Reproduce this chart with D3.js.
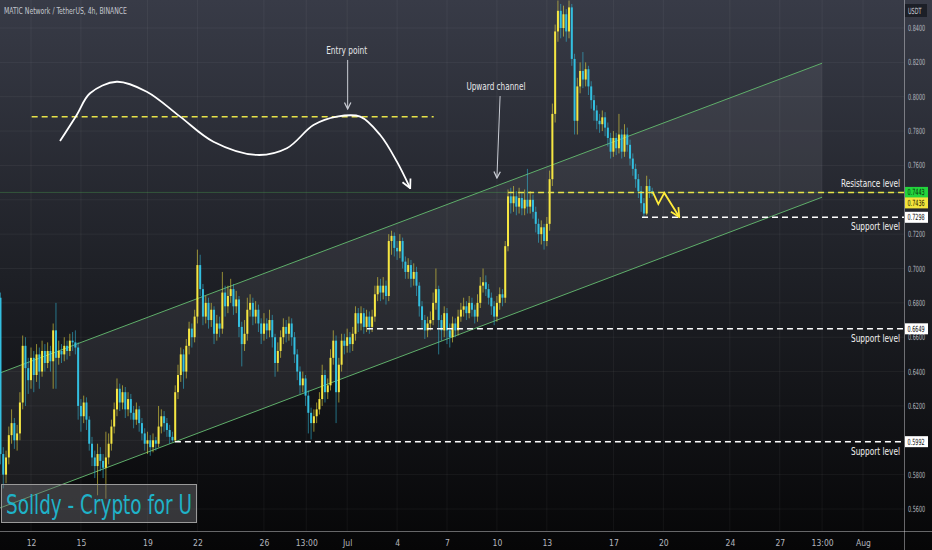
<!DOCTYPE html>
<html>
<head>
<meta charset="utf-8">
<script src="https://cdn.jsdelivr.net/npm/d3@7"></script>
<style>
  body { margin: 0; background: #000; }
  svg { display: block; }
</style>
</head>
<body>
<div id="chart"></div>
<script>
// MATIC/USDT 4h candles, first one opens Jun 10 2023 04:00, one every 4 hours
var firstOpen = 0.683
var closes = [
  0.592,0.580,0.590,0.603,0.610,0.600,0.604,0.622,0.655,0.642,
  0.635,0.648,0.638,0.650,0.640,0.652,0.645,0.652,0.646,0.664,
  0.648,0.652,0.650,0.655,0.652,0.658,0.657,0.654,0.620,0.614,
  0.622,0.612,0.598,0.590,0.585,0.592,0.588,0.584,0.590,0.598,
  0.608,0.618,0.630,0.622,0.628,0.618,0.624,0.616,0.612,0.618,
  0.610,0.604,0.598,0.600,0.596,0.600,0.598,0.608,0.614,0.610,
  0.606,0.602,0.600,0.628,0.638,0.650,0.640,0.655,0.665,0.660,
  0.672,0.702,0.688,0.672,0.680,0.670,0.676,0.662,0.668,0.665,
  0.686,0.678,0.684,0.688,0.678,0.682,0.666,0.656,0.662,0.676,
  0.680,0.672,0.676,0.668,0.662,0.668,0.664,0.670,0.660,0.645,
  0.652,0.660,0.666,0.662,0.668,0.660,0.650,0.640,0.632,0.636,
  0.626,0.616,0.610,0.614,0.618,0.624,0.638,0.628,0.632,0.648,
  0.658,0.628,0.644,0.658,0.655,0.660,0.656,0.662,0.674,0.668,
  0.674,0.666,0.672,0.666,0.672,0.685,0.690,0.686,0.690,0.684,
  0.716,0.719,0.712,0.710,0.716,0.704,0.698,0.702,0.694,0.698,
  0.690,0.678,0.670,0.664,0.668,0.670,0.680,0.688,0.670,0.664,
  0.674,0.664,0.660,0.668,0.664,0.672,0.676,0.678,0.674,0.680,
  0.676,0.672,0.680,0.690,0.692,0.688,0.683,0.678,0.672,0.680,
  0.685,0.683,0.713,0.742,0.738,0.742,0.736,0.741,0.735,0.740,
  0.736,0.740,0.733,0.726,0.720,0.724,0.716,0.726,0.752,0.790,
  0.838,0.850,0.840,0.848,0.838,0.852,0.822,0.786,0.806,0.815,
  0.810,0.816,0.806,0.798,0.792,0.786,0.784,0.788,0.782,0.776,
  0.768,0.776,0.770,0.778,0.768,0.778,0.772,0.764,0.758,0.752,
  0.745,0.738,0.732,0.748,0.745,0.7436
]
var highs = [
  0.686,0.596,0.594,0.608,0.618,0.613,0.609,0.628,0.661,0.660,
  0.648,0.654,0.652,0.656,0.654,0.658,0.656,0.657,0.655,0.668,
  0.680,0.658,0.656,0.660,0.658,0.662,0.663,0.664,0.657,0.624,
  0.626,0.625,0.614,0.602,0.594,0.598,0.596,0.592,0.605,0.604,
  0.612,0.622,0.636,0.633,0.632,0.631,0.628,0.627,0.620,0.622,
  0.620,0.613,0.607,0.605,0.603,0.604,0.602,0.620,0.618,0.617,
  0.613,0.609,0.605,0.632,0.644,0.654,0.653,0.659,0.669,0.668,
  0.676,0.711,0.708,0.691,0.684,0.683,0.680,0.678,0.673,0.672,
  0.698,0.690,0.690,0.694,0.691,0.687,0.684,0.669,0.670,0.683,
  0.685,0.683,0.681,0.679,0.671,0.674,0.671,0.676,0.673,0.662,
  0.657,0.664,0.671,0.670,0.672,0.671,0.663,0.653,0.643,0.640,
  0.638,0.629,0.619,0.618,0.622,0.628,0.644,0.641,0.636,0.653,
  0.664,0.661,0.648,0.662,0.662,0.665,0.663,0.666,0.678,0.677,
  0.678,0.677,0.676,0.675,0.676,0.690,0.695,0.694,0.695,0.693,
  0.720,0.722,0.721,0.716,0.720,0.718,0.707,0.706,0.705,0.703,
  0.701,0.692,0.681,0.673,0.672,0.675,0.686,0.700,0.690,0.673,
  0.678,0.677,0.668,0.672,0.671,0.676,0.680,0.683,0.681,0.684,
  0.683,0.679,0.685,0.695,0.700,0.696,0.691,0.686,0.681,0.684,
  0.689,0.688,0.716,0.746,0.747,0.748,0.745,0.747,0.744,0.746,
  0.758,0.745,0.743,0.736,0.729,0.728,0.726,0.730,0.757,0.796,
  0.842,0.856,0.854,0.853,0.851,0.856,0.854,0.825,0.811,0.820,
  0.826,0.820,0.818,0.809,0.801,0.795,0.790,0.792,0.791,0.785,
  0.779,0.780,0.779,0.790,0.781,0.784,0.782,0.775,0.767,0.761,
  0.755,0.748,0.741,0.754,0.752,0.747
]
var lows = [
  0.586,0.572,0.575,0.586,0.598,0.595,0.594,0.600,0.618,0.620,
  0.627,0.630,0.628,0.634,0.630,0.637,0.640,0.642,0.640,0.630,
  0.630,0.644,0.645,0.646,0.647,0.649,0.652,0.650,0.612,0.605,
  0.610,0.606,0.594,0.585,0.578,0.568,0.582,0.578,0.566,0.586,
  0.594,0.604,0.614,0.617,0.618,0.613,0.614,0.612,0.607,0.609,
  0.605,0.600,0.594,0.592,0.591,0.593,0.594,0.596,0.604,0.605,
  0.602,0.598,0.5992,0.5992,0.624,0.634,0.630,0.636,0.650,0.654,
  0.657,0.668,0.684,0.667,0.668,0.665,0.666,0.656,0.658,0.660,
  0.662,0.672,0.674,0.680,0.673,0.674,0.660,0.643,0.652,0.658,
  0.672,0.667,0.668,0.663,0.656,0.658,0.659,0.660,0.654,0.637,
  0.640,0.648,0.656,0.657,0.658,0.655,0.645,0.635,0.627,0.628,
  0.620,0.604,0.6005,0.605,0.610,0.615,0.620,0.622,0.624,0.629,
  0.644,0.610,0.622,0.640,0.650,0.651,0.651,0.652,0.658,0.663,
  0.664,0.662,0.663,0.662,0.663,0.669,0.681,0.681,0.682,0.679,
  0.681,0.708,0.707,0.705,0.706,0.700,0.694,0.694,0.689,0.690,
  0.684,0.672,0.665,0.659,0.660,0.664,0.667,0.676,0.650,0.658,
  0.660,0.656,0.654,0.657,0.660,0.661,0.669,0.672,0.670,0.671,
  0.672,0.668,0.669,0.677,0.686,0.684,0.679,0.673,0.667,0.669,
  0.676,0.678,0.680,0.710,0.732,0.733,0.731,0.732,0.731,0.731,
  0.732,0.732,0.729,0.721,0.715,0.714,0.711,0.713,0.722,0.748,
  0.785,0.832,0.834,0.835,0.832,0.834,0.818,0.778,0.778,0.802,
  0.805,0.806,0.801,0.793,0.786,0.781,0.779,0.780,0.777,0.771,
  0.764,0.765,0.766,0.767,0.764,0.765,0.768,0.760,0.754,0.747,
  0.741,0.733,0.7298,0.731,0.741,0.742
]

// axis ticks
var priceTicks = [0.56,0.58,0.60,0.62,0.64,0.66,0.68,0.70,0.72,0.74,0.76,0.78,0.80,0.82,0.84]
var dateTicks = ["2023-06-12T00:00Z","2023-06-15T00:00Z","2023-06-19T00:00Z","2023-06-22T00:00Z",
  "2023-06-26T00:00Z","2023-06-28T13:00Z","2023-07-01T00:00Z","2023-07-04T00:00Z","2023-07-07T00:00Z",
  "2023-07-10T00:00Z","2023-07-13T00:00Z","2023-07-17T00:00Z","2023-07-20T00:00Z","2023-07-24T00:00Z",
  "2023-07-27T00:00Z","2023-07-29T13:00Z","2023-08-01T00:00Z"]
var dateLabels = ["12","15","19","22","26","13:00","Jul","4","7","10","13","17","20","24","27","13:00","Aug"]

// drawings, times given as days after Jun 12 2023
var resistancePrice = 0.7443, resistanceFrom = 28.67
var supportPrices = [0.7298, 0.6649, 0.5992]
var supportFrom = [36.72, 20.19, 8.65]
var lastPrice = 0.7436
var entryPrice = 0.7884, entrySpan = [0.04, 24.2]
var channelDays = [-1.863, 47.54]
var channelUpper = [0.6392, 0.8195]
var channelLower = [0.5606, 0.7415]
var waveDays   = [1.744,2.748,3.548,5.153,6.957,8.960,10.962,13.572,15.376,16.975,18.382,19.783,20.986,21.990,22.790]
var wavePrices = [0.7742,0.7894,0.8020,0.8087,0.8029,0.7884,0.7738,0.7661,0.7700,0.7835,0.7884,0.7884,0.7777,0.7622,0.7467]
var zigDays   = [37.36, 37.70, 38.06, 38.96]
var zigPrices = [0.7446, 0.7375, 0.7440, 0.7300]

var W = 932, H = 550, plotW = 904, plotH = 531
var FONT = "'DejaVu Sans Condensed', 'Liberation Sans Narrow', sans-serif"
var day0 = Date.UTC(2023, 5, 12)
function dayOf(d) { return new Date(day0 + d * 864e5) }

var svg = d3.select("#chart").append("svg")
    .attr("width", W).attr("height", H)
    .style("font-family", FONT)

var defs = svg.append("defs")
var grad = defs.append("linearGradient").attr("id", "bg")
    .attr("x1", 0).attr("y1", 0).attr("x2", 0).attr("y2", 1)
grad.append("stop").attr("offset", "0%").attr("stop-color", "#383b47")
grad.append("stop").attr("offset", "50%").attr("stop-color", "#1e2026")
grad.append("stop").attr("offset", "100%").attr("stop-color", "#060607")
defs.append("clipPath").attr("id", "plot")
  .append("rect").attr("width", plotW).attr("height", plotH)

function marker(id, color, size) {
  defs.append("marker").attr("id", id)
      .attr("markerUnits", "userSpaceOnUse")
      .attr("viewBox", "0 0 10 10")
      .attr("refX", 9).attr("refY", 5)
      .attr("markerWidth", size).attr("markerHeight", size)
      .attr("orient", "auto")
    .append("path")
      .attr("d", "M1,1 L9,5 L1,9")
      .attr("fill", "none").attr("stroke", color).attr("stroke-width", 1.6)
}
marker("arrW", "#ffffff", 11)
marker("arrG", "#c9ccd4", 8)
marker("arrY", "#ffeb3b", 11)

svg.append("rect").attr("width", W).attr("height", H).attr("fill", "url(#bg)")

// scales
var x = d3.scaleUtc().domain([dayOf(-1.863), dayOf(52.464)]).range([0, plotW])
var y = d3.scaleLinear().domain([0.5472, 0.8563]).range([plotH, 0])
var tickDates = dateTicks.map(function(s) { return new Date(s) })

var plot = svg.append("g").attr("clip-path", "url(#plot)")

// grid
plot.selectAll(".vg").data(tickDates).enter().append("line")
    .attr("x1", function(d) { return x(d) }).attr("x2", function(d) { return x(d) })
    .attr("y1", 0).attr("y2", plotH)
    .attr("stroke", "rgba(255,255,255,0.05)")
plot.selectAll(".hg").data(priceTicks).enter().append("line")
    .attr("x1", 0).attr("x2", plotW)
    .attr("y1", function(d) { return y(d) }).attr("y2", function(d) { return y(d) })
    .attr("stroke", "rgba(255,255,255,0.05)")

// upward channel
var chPts = [[channelDays[0], channelUpper[0]], [channelDays[1], channelUpper[1]],
             [channelDays[1], channelLower[1]], [channelDays[0], channelLower[0]]]
plot.append("path")
    .attr("d", d3.line().x(function(p) { return x(dayOf(p[0])) }).y(function(p) { return y(p[1]) })(chPts) + "Z")
    .attr("fill", "rgba(200,205,215,0.09)")
;[channelUpper, channelLower].forEach(function(c) {
  plot.append("line")
      .attr("x1", x(dayOf(channelDays[0]))).attr("y1", y(c[0]))
      .attr("x2", x(dayOf(channelDays[1]))).attr("y2", y(c[1]))
      .attr("stroke", "#5fae6a").attr("stroke-width", 1)
})

// last price line
plot.append("line")
    .attr("x1", 0).attr("x2", plotW)
    .attr("y1", y(resistancePrice)).attr("y2", y(resistancePrice))
    .attr("stroke", "rgba(76,175,80,0.35)").attr("stroke-width", 1)

// candles
var t0 = Date.UTC(2023, 5, 10, 4)
var candles = closes.map(function(c, i) {
  return { t: new Date(t0 + i * 4 * 36e5), o: i ? closes[i - 1] : firstOpen, c: c, h: highs[i], l: lows[i] }
})
var upCol = "#f5e642", downCol = "#33bfe0"
function col(d) { return d.c >= d.o ? upCol : downCol }

var cg = plot.append("g")
cg.selectAll(".wick").data(candles).enter().append("line")
    .attr("x1", function(d) { return x(d.t) }).attr("x2", function(d) { return x(d.t) })
    .attr("y1", function(d) { return y(d.h) }).attr("y2", function(d) { return y(d.l) })
    .attr("stroke", col).attr("stroke-opacity", 0.55).attr("stroke-width", 1)
cg.selectAll(".body").data(candles).enter().append("rect")
    .attr("x", function(d) { return x(d.t) - 1 })
    .attr("width", 2)
    .attr("y", function(d) { return y(Math.max(d.o, d.c)) })
    .attr("height", function(d) { return Math.max(1, Math.abs(y(d.o) - y(d.c))) })
    .attr("fill", col)

// resistance / support lines
plot.append("line")
    .attr("x1", x(dayOf(resistanceFrom))).attr("x2", plotW)
    .attr("y1", y(resistancePrice)).attr("y2", y(resistancePrice))
    .attr("stroke", "#e8e34a").attr("stroke-width", 1.5).attr("stroke-dasharray", "6,4")
supportPrices.forEach(function(p, i) {
  plot.append("line")
      .attr("x1", x(dayOf(supportFrom[i]))).attr("x2", plotW)
      .attr("y1", y(p)).attr("y2", y(p))
      .attr("stroke", "#ffffff").attr("stroke-width", 1.5).attr("stroke-dasharray", "6,4")
})
plot.append("line")
    .attr("x1", x(dayOf(entrySpan[0]))).attr("x2", x(dayOf(entrySpan[1])))
    .attr("y1", y(entryPrice)).attr("y2", y(entryPrice))
    .attr("stroke", "#e8e34a").attr("stroke-width", 1.5).attr("stroke-dasharray", "6,4")

// wave drawing
var wave = waveDays.map(function(d, i) { return [d, wavePrices[i]] })
plot.append("path")
    .attr("d", d3.line().curve(d3.curveCatmullRom.alpha(0.5))
      .x(function(p) { return x(dayOf(p[0])) }).y(function(p) { return y(p[1]) })(wave))
    .attr("fill", "none").attr("stroke", "#ffffff").attr("stroke-width", 1.8)
    .attr("marker-end", "url(#arrW)")

// yellow zigzag
var zig = zigDays.map(function(d, i) { return [d, zigPrices[i]] })
plot.append("path")
    .attr("d", d3.line().x(function(p) { return x(dayOf(p[0])) }).y(function(p) { return y(p[1]) })(zig))
    .attr("fill", "none").attr("stroke", "#ffeb3b").attr("stroke-width", 1.8)
    .attr("marker-end", "url(#arrY)")

// narrow text helper: the chart font is a tight condensed face
function narrow(sel, w) {
  return sel.attr("textLength", w).attr("lengthAdjust", "spacingAndGlyphs")
}

// callouts
function callout(txt, w, d, p, d1, p1, d2, p2) {
  narrow(plot.append("text").attr("x", x(dayOf(d))).attr("y", y(p))
      .attr("text-anchor", "middle").attr("font-size", 10).attr("fill", "#e6e7ea").text(txt), w)
  plot.append("line")
      .attr("x1", x(dayOf(d1))).attr("y1", y(p1))
      .attr("x2", x(dayOf(d2))).attr("y2", y(p2))
      .attr("stroke", "#c9ccd4").attr("stroke-width", 1)
      .attr("marker-end", "url(#arrG)")
}
callout("Entry point", 41, 18.97, 0.8250, 19.03, 0.8214, 19.03, 0.7929)
callout("Upward channel", 59, 27.94, 0.8040, 28.19, 0.8004, 28.00, 0.7527)

// level captions
function caption(txt, w, p, dy) {
  narrow(plot.append("text").attr("x", 900).attr("y", y(p) + dy)
      .attr("text-anchor", "end").attr("font-size", 10).attr("fill", "#f0f0f0").text(txt), w)
}
caption("Resistance level", 59, resistancePrice, -5)
supportPrices.forEach(function(p) { caption("Support level", 49, p, 13) })

// watermark
svg.append("rect").attr("x", 1.5).attr("y", 484.5).attr("width", 195).attr("height", 38)
    .attr("fill", "rgba(110,110,115,0.45)").attr("stroke", "#9a9a9a").attr("stroke-width", 1)
narrow(svg.append("text").attr("x", 6).attr("y", 514)
    .attr("font-size", 27).attr("fill", "#1fb2c8")
    .text("Solldy - Crypto for U"), 186)

// title
narrow(svg.append("text").attr("x", 4).attr("y", 14).attr("font-size", 9).attr("fill", "#c3c6ce")
    .text("MATIC Network / TetherUS, 4h, BINANCE"), 123)

// axes
svg.append("line").attr("x1", plotW + 0.5).attr("x2", plotW + 0.5).attr("y1", 0).attr("y2", H)
    .attr("stroke", "rgba(220,220,225,0.45)")
svg.append("line").attr("x1", 0).attr("x2", W).attr("y1", plotH + 0.5).attr("y2", plotH + 0.5)
    .attr("stroke", "rgba(220,220,225,0.45)")

// price badges on the scale
var badges = [
  { p: resistancePrice, bg: "#22d43c", fg: "#0b2e0b" },
  { p: lastPrice, bg: "#f2e43c", fg: "#2a2600" },
  { p: supportPrices[0], bg: "#ffffff", fg: "#111" },
  { p: supportPrices[1], bg: "#ffffff", fg: "#111" },
  { p: supportPrices[2], bg: "#ffffff", fg: "#111" }
]
var prevY = -100
badges.forEach(function(b) {
  b.y = Math.max(y(b.p), prevY + 10.5)
  prevY = b.y
})

// the scale font is very narrow, so labels are squeezed horizontally
var SQUEEZE = 0.64
var fmt = d3.format(".4f")

// price scale, labels hidden under a badge are dropped
var shownTicks = priceTicks.filter(function(t) {
  return !badges.some(function(b) { return Math.abs(y(t) - b.y) < 7 })
})
svg.append("g").selectAll("text").data(shownTicks).enter().append("text")
    .attr("transform", function(d) { return "translate(" + (plotW + 4) + "," + (y(d) + 3) + ") scale(" + SQUEEZE + ",1)" })
    .attr("font-size", 8.5).attr("fill", "#b4b7bf")
    .text(fmt)

var xAxis = svg.append("g").attr("transform", "translate(0," + (plotH + 6) + ")")
    .call(d3.axisBottom(x).tickValues(tickDates).tickFormat(function(d, i) { return dateLabels[i] }).tickSize(0))
xAxis.select(".domain").remove()
xAxis.selectAll("text").attr("font-family", FONT).attr("font-size", 8.5).attr("fill", "#b4b7bf")

// currency badge
svg.append("rect").attr("x", 905).attr("y", 4).attr("width", 22).attr("height", 13).attr("fill", "#1c1f27")
svg.append("text").attr("transform", "translate(908,13.5) scale(" + SQUEEZE + ",1)")
    .attr("font-size", 8.5).attr("fill", "#d0d3da").text("USDT")

badges.forEach(function(b) {
  svg.append("rect").attr("x", plotW + 1).attr("y", b.y - 5.5).attr("width", 23).attr("height", 11).attr("fill", b.bg)
  svg.append("text").attr("transform", "translate(" + (plotW + 3.5) + "," + (b.y + 3) + ") scale(" + SQUEEZE + ",1)")
      .attr("font-size", 8.5).attr("fill", b.fg)
      .text(fmt(b.p))
})
</script>
</body>
</html>
